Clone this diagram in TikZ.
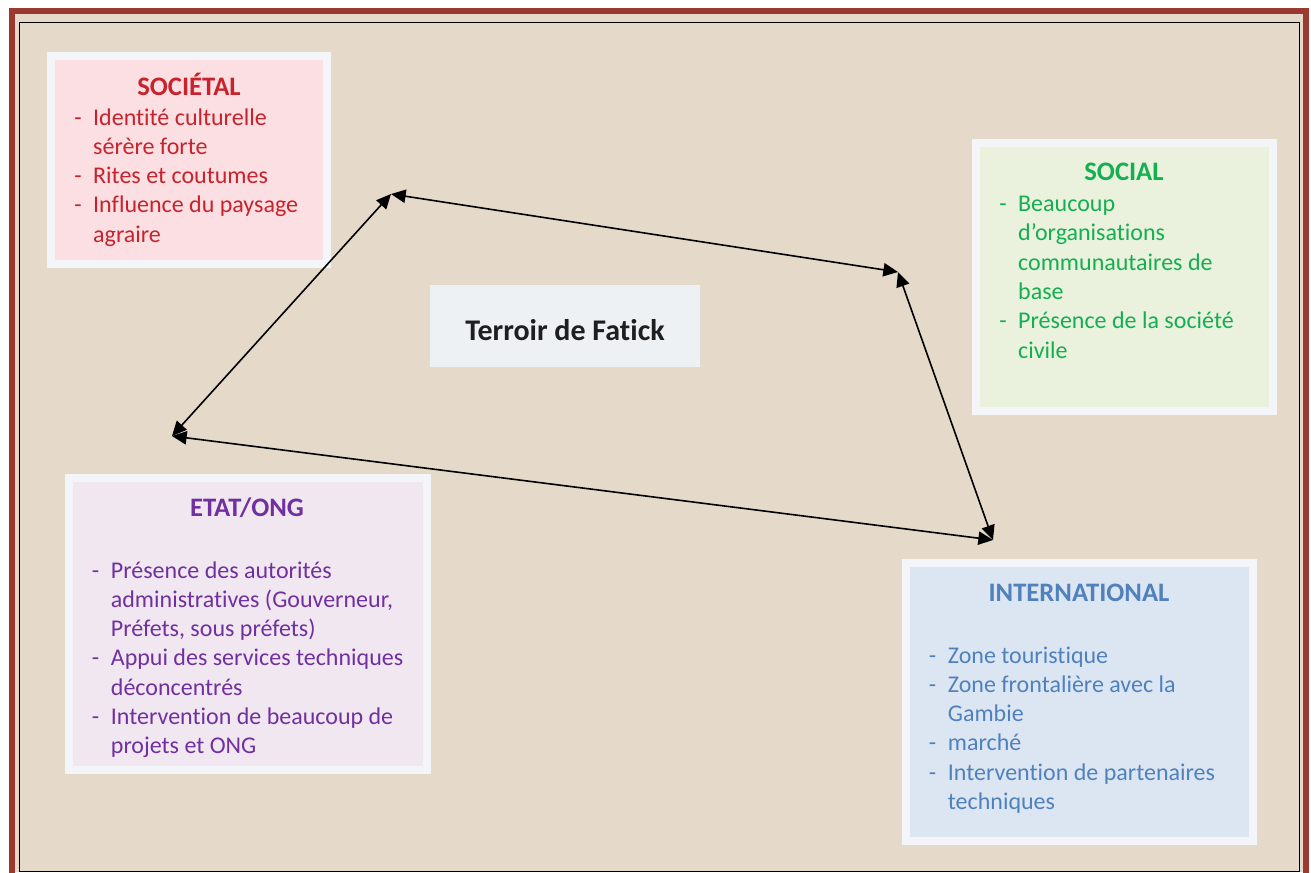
\documentclass[tikz,border=0pt]{standalone}
\usepackage{fontspec}
\setmainfont{Carlito}[Ligatures=NoCommon]
\usetikzlibrary{arrows.meta,fit}

\definecolor{fond}{RGB}{229,218,202}
\definecolor{bordure}{RGB}{155,56,48}
\definecolor{cadreblanc}{RGB}{244,245,248}
\definecolor{rosefond}{RGB}{251,223,226}
\definecolor{rouge}{RGB}{200,35,45}
\definecolor{vertfond}{RGB}{234,241,221}
\definecolor{vert}{RGB}{20,175,80}
\definecolor{mauvefond}{RGB}{241,231,241}
\definecolor{violet}{RGB}{112,48,160}
\definecolor{bleufond}{RGB}{220,230,242}
\definecolor{bleu}{RGB}{79,129,189}
\definecolor{terroirfond}{RGB}{237,241,243}

\tikzset{
  cadre/.style={draw=cadreblanc, line width=6pt, inner sep=0pt},
  titre/.style={font=\fontsize{20}{24}\selectfont\bfseries, anchor=base},
  ligne/.style={font=\fontsize{18}{22}\selectfont, anchor=base west, inner sep=0pt},
  lien/.style={{Triangle[length=11pt,width=10pt]}-{Triangle[length=11pt,width=10pt]}, line width=1.2pt, black}
}

\begin{document}
\begin{tikzpicture}[x=0.75pt, y=-0.75pt]
  \useasboundingbox (0,0) rectangle (1311,872);
  % fond et bordure
  \fill[white] (0,0) rectangle (1311,872);
  \fill[fond] (14,14) rectangle (1303,872);
  \draw[bordure, line width=4.5pt] (11.7,880) -- (11.7,11) -- (1306,11) -- (1306,880);
  \draw[black, line width=0.8pt] (19.5,871.3) rectangle (1299.5,22.5);

  % SOCIETAL
  \node[cadre, fill=rosefond, fit={(51,56) (326.5,264)}] (societal) {};
  \node[titre, text=rouge] (societal-t) at (189,95.7) {SOCIÉTAL};
  \foreach \d/\t [count=\i from 0] in {-/Identité culturelle, /sérère forte,
      -/Rites et coutumes, -/Influence du paysage, /agraire}
    \node[ligne, text=rouge] (societal-\i) at (74,125+29.3*\i) {\makebox[14.2pt][l]{\d}\t};

  % SOCIAL
  \node[cadre, fill=vertfond, fit={(976,142.5) (1273,411)}] (social) {};
  \node[titre, text=vert] (social-t) at (1124,180.7) {SOCIAL};
  \foreach \d/\t [count=\i from 0] in {-/Beaucoup, /d’organisations,
      /communautaires de, /base, -/Présence de la société, /civile}
    \node[ligne, text=vert] (social-\i) at (999,211.5+29.3*\i) {\makebox[14.2pt][l]{\d}\t};

  % ETAT/ONG
  \node[cadre, fill=mauvefond, fit={(69,477.5) (427,770)}] (etat) {};
  \node[titre, text=violet] (etat-t) at (247,516.7) {ETAT/ONG};
  \foreach \d/\t [count=\i from 0] in {-/Présence des autorités,
      /administratives (Gouverneur{,}, /Préfets{,} sous préfets),
      -/Appui des services techniques, /déconcentrés,
      -/Intervention de beaucoup de, /projets et ONG}
    \node[ligne, text=violet] (etat-\i) at (91.7,578.3+29.2*\i) {\makebox[14.2pt][l]{\d}\t};

  % INTERNATIONAL
  \node[cadre, fill=bleufond, fit={(905.5,563) (1252.5,840.5)}] (inter) {};
  \node[titre, text=bleu] (inter-t) at (1079,601.7) {INTERNATIONAL};
  \foreach \d/\t [count=\i from 0] in {-/Zone touristique, -/Zone frontalière avec la,
      /Gambie, -/marché, -/Intervention de partenaires, /techniques}
    \node[ligne, text=bleu] (inter-\i) at (928.7,663.3+29.2*\i) {\makebox[14.2pt][l]{\d}\t};

  % centre
  \node[fill=terroirfond, inner sep=0pt, minimum width=202.5pt, text height=41.25pt,
    text depth=20.25pt, anchor=base, text={rgb,255:red,30;green,30;blue,30},
    font=\fontsize{22.5}{27}\selectfont\bfseries] (terroir) at (565,340) {Terroir de Fatick};

  % liens
  \coordinate (p1) at (391,194);
  \coordinate (p2) at (898,272);
  \coordinate (p3) at (993,540);
  \coordinate (p4) at (172,436);
  \draw[lien] (p4) -- (p1);
  \draw[lien] (p1) -- (p2);
  \draw[lien] (p2) -- (p3);
  \draw[lien] (p4) -- (p3);
\end{tikzpicture}
\end{document}
